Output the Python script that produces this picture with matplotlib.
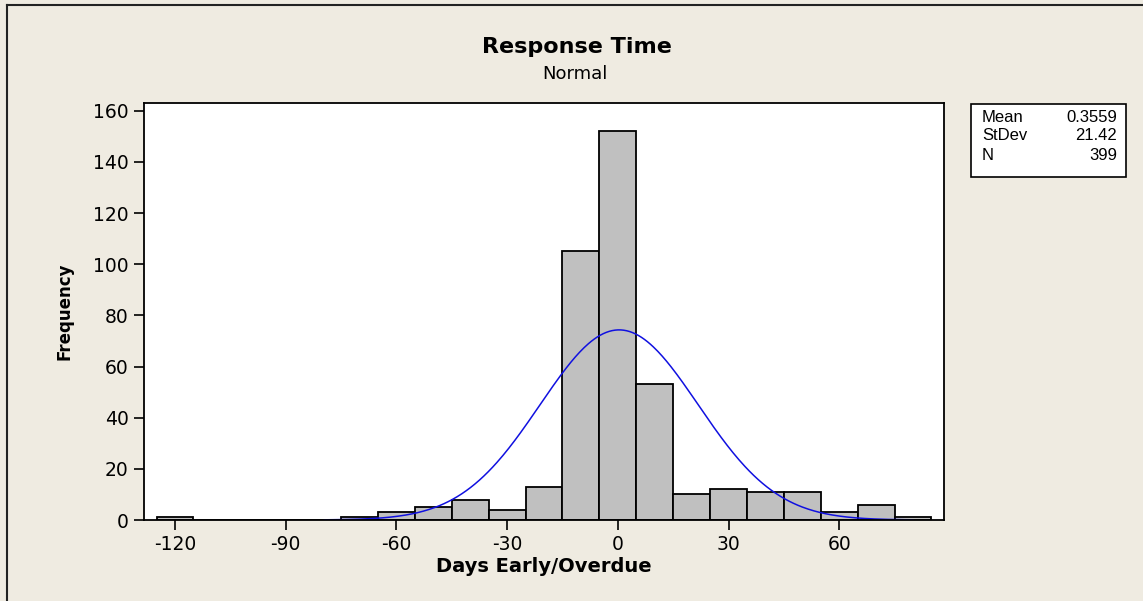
import numpy as np
import matplotlib.pyplot as plt
from matplotlib.lines import Line2D

plt.rcParams['axes.unicode_minus'] = False

# centros de los intervalos (ancho 10) y frecuencias
bin_centers = [-120, -110, -100, -90, -80, -70, -60, -50, -40, -30, -20,
               -10, 0, 10, 20, 30, 40, 50, 60, 70, 80]
counts = [1, 0, 0, 0, 0, 1, 3, 5, 8, 4, 13,
          105, 152, 53, 10, 12, 11, 11, 3, 6, 1]
bin_width = 10

mean = 0.3559
stdev = 21.42
n_obs = 399

x_ticks = [-120, -90, -60, -30, 0, 30, 60]
y_ticks = [0, 20, 40, 60, 80, 100, 120, 140, 160]

bg = "#EFEBE1"

fig = plt.figure(figsize=(11.43, 6.01), dpi=100, facecolor=bg)
ax = fig.add_axes([144/1143, 1-520/601, 800/1143, 417/601])
ax.set_facecolor("white")

ax.bar(bin_centers, counts, width=bin_width, color="#C0C0C0",
       edgecolor="black", linewidth=1.3)

# curva normal ajustada
xs = np.linspace(-79.5, 80, 400)
pdf = np.exp(-0.5*((xs-mean)/stdev)**2)/(stdev*np.sqrt(2*np.pi))
ax.plot(xs, n_obs*bin_width*pdf, color="#1010E0", linewidth=1.1)

ax.set_xlim(-128.4, 88.4)
ax.set_ylim(0, 163)
ax.set_xticks(x_ticks)
ax.set_yticks(y_ticks)
ax.tick_params(direction="out", length=7, width=1.2, labelsize=13.5,
               pad=4, colors="black")
for s in ax.spines.values():
    s.set_linewidth(1.3)

ax.set_xlabel("Days Early/Overdue", fontsize=14, fontweight="bold",
              labelpad=2)
ax.set_ylabel("Frequency", fontsize=12, fontweight="bold", labelpad=14)

fig.text(0.505, 0.922, "Response Time", ha="center", va="center",
         fontsize=16, fontweight="bold")
fig.text(0.503, 0.877, "Normal", ha="center", va="center", fontsize=13)

# cuadro de estadísticos
bx0, by0, bx1, by1 = 971/1143, 1-177/601, 1126/1143, 1-104/601
fig.patches.append(plt.Rectangle((bx0, by0), bx1-bx0, by1-by0,
                                 transform=fig.transFigure, facecolor="white",
                                 edgecolor="black", linewidth=1.2))
labels = ["Mean", "StDev", "N"]
values = [f"{mean:.4f}", f"{stdev:.2f}", f"{n_obs}"]
for i, (lab, val) in enumerate(zip(labels, values)):
    yy = 1-(117+19*i)/601
    fig.text(982/1143, yy, lab, ha="left", va="center", fontsize=12,
             family="Liberation Sans")
    fig.text(1117/1143, yy, val, ha="right", va="center", fontsize=12,
             family="Liberation Sans")

# marco exterior (solo arriba e izquierda)
fig.lines.append(Line2D([7/1143, 7/1143], [0, 1-5/601],
                        transform=fig.transFigure, color="#222222", lw=1.5))
fig.lines.append(Line2D([7/1143, 1], [1-5/601, 1-5/601],
                        transform=fig.transFigure, color="#222222", lw=1.5))

fig.savefig("out.png", dpi=100, facecolor=bg)
